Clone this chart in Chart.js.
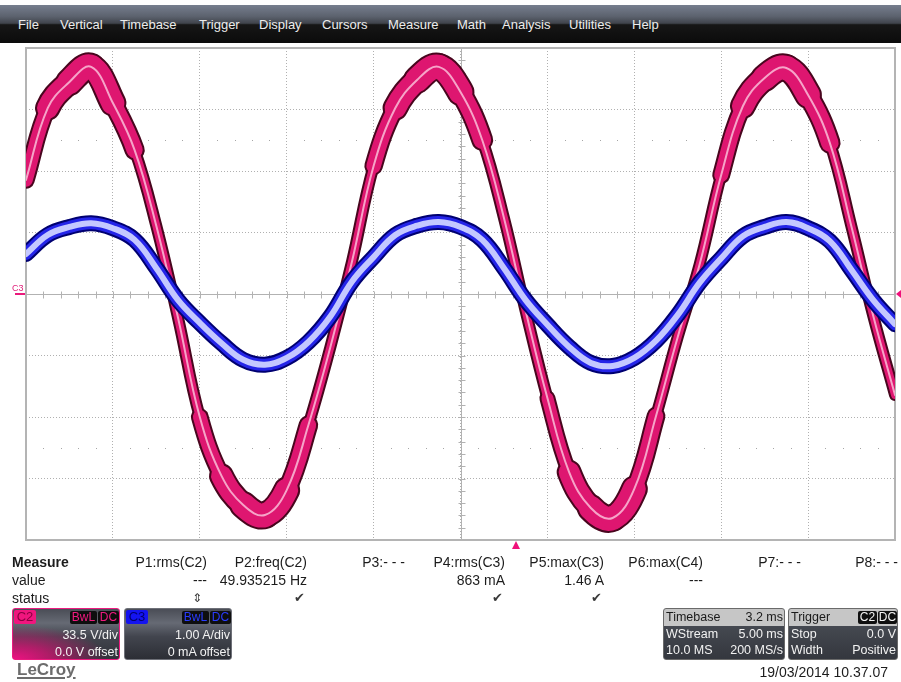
<!DOCTYPE html>
<html>
<head>
<meta charset="utf-8">
<script src="https://cdn.jsdelivr.net/npm/chart.js@4.4.1/dist/chart.umd.min.js"></script>
<style>
  body { margin: 0; width: 901px; height: 682px; background: #fff; position: relative; overflow: hidden;
         font-family: "Liberation Sans", Arial, sans-serif; }
  #scope { position: absolute; left: 0; top: 0; }
  #menu { position: absolute; left: 0; top: 5px; width: 901px; height: 38px;
          background: linear-gradient(#767e8e 0%, #5c626e 30%, #40444c 48%, #161616 52%, #0b0b0b 100%); }
  #menu span { position: absolute; top: 12px; color: #ececec; font-size: 13px; line-height: 16px; }
  .t { position: absolute; white-space: nowrap; line-height: 16px; color: #1c1c1c; font-size: 14px; }
  .box { position: absolute; top: 608px; height: 52px; box-sizing: border-box; border: 1px solid #6a6a6a;
         border-radius: 3px; overflow: hidden; }
  .box .t { color: #f2f2f2; font-size: 12.5px; }
  .tag { position: absolute; left: 1px; top: 1px; width: 22px; height: 14px; font-size: 13px; line-height: 14px;
         text-align: center; border-radius: 2px; }
  .badge { position: absolute; top: 2px; height: 13px; line-height: 13px; font-size: 12px; background: #0e0e0e;
           border-radius: 2px; text-align: center; }
  .row { position: absolute; left: 0; right: 0; height: 17px; }
</style>
</head>
<body>
<canvas id="scope" width="901" height="682"></canvas>
<div id="menu"></div>
<div id="overlay"></div>
<script>
// time axis, 3.2 ms/div over 10 divisions
const timeMs = [0, 0.8, 1.6, 2.4, 3.2, 4, 4.8, 5.6, 6.4, 7.2, 8, 8.8, 9.6, 10.4, 11.2, 12, 12.8, 13.6, 14.4, 15.2,
  16, 16.8, 17.6, 18.4, 19.2, 20, 20.8, 21.6, 22.4, 23.2, 24, 24.8, 25.6, 26.4, 27.2, 28, 28.8, 29.6, 30.4, 31.2, 32];
const timeGrid = [0, 3.2, 6.4, 9.6, 12.8, 16, 19.2, 22.4, 25.6, 28.8, 32];
const voltGrid = [-134, -100.5, -67, -33.5, 0, 33.5, 67, 100.5, 134];

// C2 voltage (V), 33.5 V/div
const c2Volts = [62.1, 101.3, 115.5, 123.7, 104.0, 78.4, 37.0, -13.1, -67.0, -99.1, -114.9, -120.4, -106.8, -71.4,
  -29.4, 17.4, 69.7, 101.3, 116.6, 123.7, 110.0, 83.9, 41.4, -9.3, -56.7, -97.0, -116.6, -122.0, -106.2, -66.5,
  -23.4, 15.8, 64.8, 102.4, 117.7, 123.1, 108.4, 82.3, 36.5, -12.0, -55.0];
// C3 current (A), 1.00 A/div
const c3Amps = [0.65, 0.96, 1.09, 1.15, 1.07, 0.88, 0.42, -0.10, -0.47, -0.80, -1.07, -1.15, -1.04, -0.78, -0.37,
  0.20, 0.60, 0.96, 1.11, 1.17, 1.09, 0.88, 0.42, -0.10, -0.50, -0.86, -1.12, -1.17, -1.04, -0.76, -0.34, 0.18,
  0.58, 0.94, 1.09, 1.17, 1.07, 0.86, 0.39, -0.10, -0.49];

const menuItems = [['File', 18], ['Vertical', 60], ['Timebase', 120], ['Trigger', 199], ['Display', 259],
  ['Cursors', 322], ['Measure', 388], ['Math', 457], ['Analysis', 502], ['Utilities', 569], ['Help', 632]];

const paramNames = ['P1:rms(C2)', 'P2:freq(C2)', 'P3:- - -', 'P4:rms(C3)', 'P5:max(C3)', 'P6:max(C4)', 'P7:- - -', 'P8:- - -'];
const paramValues = ['---', '49.935215 Hz', '', '863 mA', '1.46 A', '---', '', ''];
const paramStatus = ['⇕', '✔', '', '✔', '✔', '', '', ''];
const paramRight = [207, 307, 405, 505, 604, 703, 801, 898];

function label(parent, text, css) {
  const el = document.createElement('div');
  el.className = 't';
  el.textContent = text;
  Object.assign(el.style, css);
  parent.appendChild(el);
  return el;
}

window.addEventListener('DOMContentLoaded', () => {
  buildPanel();
  drawScope();
});

function buildPanel() {
  const menu = document.getElementById('menu');
  menuItems.forEach(([name, x]) => {
    const s = document.createElement('span');
    s.textContent = name;
    s.style.left = x + 'px';
    menu.appendChild(s);
  });

  const ov = document.getElementById('overlay');

  // C3 ground marker on the left and trigger markers
  label(ov, 'C3', { left: '12px', top: '280px', fontSize: '9px', color: '#e0207a' });
  ov.insertAdjacentHTML('beforeend',
    '<div style="position:absolute;left:15px;top:293px;width:10px;height:2px;background:#ea1a7c"></div>' +
    '<div style="position:absolute;left:512px;top:541px;width:0;height:0;border-left:4px solid transparent;border-right:4px solid transparent;border-bottom:8px solid #f0107a"></div>' +
    '<div style="position:absolute;left:896px;top:290px;width:0;height:0;border-top:4px solid transparent;border-bottom:4px solid transparent;border-right:5px solid #f0107a"></div>');

  // measure table
  label(ov, 'Measure', { left: '12px', top: '554px', fontWeight: 'bold' });
  label(ov, 'value', { left: '12px', top: '572px' });
  label(ov, 'status', { left: '12px', top: '590px' });
  paramNames.forEach((name, i) => {
    const r = (901 - paramRight[i]) + 'px';
    label(ov, name, { right: r, top: '554px' });
    if (paramValues[i]) label(ov, paramValues[i], { right: r, top: '572px' });
    if (paramStatus[i]) {
      label(ov, paramStatus[i], { right: (901 - paramRight[i] + (i === 0 ? 5 : 2)) + 'px', top: '590px',
        fontFamily: '"DejaVu Sans"', fontSize: i === 0 ? '12px' : '13px', color: '#3a3a3a' });
    }
  });

  // channel boxes
  ov.insertAdjacentHTML('beforeend', `
    <div class="box" style="left:12px;width:108px;border-color:#ec1c80;background:
      radial-gradient(ellipse 120% 90% at 0% 100%, #ee1282 0%, rgba(214,20,116,0.75) 30%, rgba(120,30,80,0) 75%),
      linear-gradient(#4a4d56 0%, #666a74 28%, #42454e 55%, #30323a 100%);">
      <div class="tag" style="background:#f0167e;color:#8a0040">C2</div>
      <div class="badge" style="left:57px;width:27px;color:#f01a80">BwL</div>
      <div class="badge" style="left:85px;width:21px;color:#f01a80">DC</div>
      <div class="t" style="right:1px;top:18px">33.5 V/div</div>
      <div class="t" style="right:1px;top:35px">0.0 V offset</div>
    </div>
    <div class="box" style="left:124px;width:108px;border-color:#6e7078;background:
      linear-gradient(#4a4d56 0%, #666a74 28%, #42454e 55%, #2c2e35 100%);">
      <div class="tag" style="background:#1414f0;color:#00006e">C3</div>
      <div class="badge" style="left:57px;width:27px;color:#2a3cff">BwL</div>
      <div class="badge" style="left:85px;width:21px;color:#2a3cff">DC</div>
      <div class="t" style="right:1px;top:18px">1.00 A/div</div>
      <div class="t" style="right:1px;top:35px">0 mA offset</div>
    </div>
    <div class="box" style="left:663px;width:122px;background:linear-gradient(#4e525a, #34373e);">
      <div class="row" style="top:0;background:#c6c6c6"></div>
      <div class="t" style="left:2px;top:0px;font-size:12.5px;color:#1a1a1a">Timebase</div>
      <div class="t" style="right:1px;top:0px;font-size:12.5px;color:#1a1a1a">3.2 ms</div>
      <div class="t" style="left:2px;top:17px">WStream</div>
      <div class="t" style="right:1px;top:17px">5.00 ms</div>
      <div class="t" style="left:2px;top:33px">10.0 MS</div>
      <div class="t" style="right:1px;top:33px">200 MS/s</div>
    </div>
    <div class="box" style="left:788px;width:110px;background:linear-gradient(#4e525a, #34373e);">
      <div class="row" style="top:0;background:#c6c6c6"></div>
      <div class="t" style="left:2px;top:0px;font-size:12.5px;color:#1a1a1a">Trigger</div>
      <div class="badge" style="left:69px;width:19px;color:#f4f4f4;background:#101010">C2</div>
      <div class="badge" style="left:89px;width:19px;color:#f4f4f4;background:#101010">DC</div>
      <div class="t" style="left:2px;top:17px">Stop</div>
      <div class="t" style="right:1px;top:17px">0.0 V</div>
      <div class="t" style="left:2px;top:33px">Width</div>
      <div class="t" style="right:1px;top:33px">Positive</div>
    </div>`);

  label(ov, 'LeCroy', { left: '17px', top: '661px', fontSize: '17px', fontWeight: 'bold', color: '#6c6c6c',
    textDecoration: 'underline', textDecorationThickness: '2px', textUnderlineOffset: '2px', lineHeight: '18px' });
  label(ov, '19/03/2014 10.37.07', { right: '13px', top: '664px' });
}

// scope graticule: border, centre cross with ticks and dot rows
const graticule = {
  id: 'graticule',
  beforeDatasetsDraw(chart) {
    const { ctx, chartArea: a, scales } = chart;
    const cx = Math.round(scales.x.getPixelForValue(16)) + 0.5;
    const cy = Math.round(scales.yV.getPixelForValue(0)) + 0.5;
    const dx = (a.right - a.left) / 50;
    const dy = (a.bottom - a.top) / 40;
    ctx.save();
    ctx.strokeStyle = '#b2b2b2';
    ctx.lineWidth = 1;
    ctx.beginPath();
    ctx.moveTo(a.left, cy); ctx.lineTo(a.right, cy);
    ctx.moveTo(cx, a.top); ctx.lineTo(cx, a.bottom);
    for (let i = 1; i < 50; i++) {
      const x = Math.round(a.left + i * dx) + 0.5;
      ctx.moveTo(x, cy - 3); ctx.lineTo(x, cy + 4);
    }
    for (let i = 1; i < 40; i++) {
      const y = Math.round(a.top + i * dy) + 0.5;
      ctx.moveTo(cx - 3, y); ctx.lineTo(cx + 4, y);
    }
    ctx.stroke();
    ctx.fillStyle = '#a6a6a6';
    [scales.yV.getPixelForValue(83.75), scales.yV.getPixelForValue(-83.75)].forEach((y) => {
      for (let i = 1; i < 50; i++) {
        if (i % 5) ctx.fillRect(Math.round(a.left + i * dx), Math.round(y), 1, 1);
      }
    });
    ctx.strokeStyle = '#b4b4b4';
    ctx.lineWidth = 2;
    ctx.strokeRect(a.left, a.top, a.right - a.left, a.bottom - a.top);
    ctx.restore();
  },
};

// pink trace looks fatter near the peaks (uses the mean level of the segment)
function c2Width(ctx, extra) {
  const m = (Math.abs(ctx.p0.parsed.y) + Math.abs(ctx.p1.parsed.y)) / 2 / 33.5;
  const f = Math.min(1, Math.max(0, (m - 1.9) / 1.6));
  return 10 + 16 * f + extra;
}

function trace(data, axis, color, width, order, extra) {
  const ds = {
    data: timeMs.map((t, i) => ({ x: t, y: data[i] })),
    yAxisID: axis,
    borderColor: color,
    borderWidth: width,
    borderCapStyle: 'round',
    borderJoinStyle: 'round',
    pointRadius: 0,
    tension: 0.4,
    order,
  };
  if (extra !== undefined) ds.segment = { borderWidth: (ctx) => c2Width(ctx, extra) };
  return ds;
}

function gridScale(ticks, min, max, pos) {
  return {
    type: 'linear',
    position: pos,
    min,
    max,
    ticks: { display: false },
    grid: { color: '#b0b0b0', lineWidth: 1, drawTicks: false },
    border: { display: false, dash: [1, 2] },
    afterBuildTicks: (scale) => { scale.ticks = ticks.map((value) => ({ value })); },
  };
}

function drawScope() {
  const ctx = document.getElementById('scope');
  const config = {
    type: 'line',
    data: {
      datasets: [
        trace(c3Amps, 'yA', '#c4c8ff', 6, 0),
        trace(c3Amps, 'yA', '#2424e8', 12, 1),
        trace(c3Amps, 'yA', '#000070', 16, 2),
        trace(c2Volts, 'yV', '#f6a4c8', 2, 3),
        trace(c2Volts, 'yV', '#de1670', 10, 4, -2),
        trace(c2Volts, 'yV', '#48061e', 14, 5, 2),
      ],
    },
    options: {
      responsive: false,
      animation: false,
      events: [],
      layout: { padding: { left: 26, top: 48, right: 6, bottom: 142 } },
      plugins: { legend: { display: false }, tooltip: { enabled: false } },
      scales: {
        x: gridScale(timeGrid, 0, 32, 'bottom'),
        yV: gridScale(voltGrid, -134, 134, 'left'),
        yA: { type: 'linear', position: 'right', min: -4, max: 4, display: false },
      },
    },
    plugins: [graticule],
  };
  const chart = new Chart(ctx, config);
}
</script>
</body>
</html>
